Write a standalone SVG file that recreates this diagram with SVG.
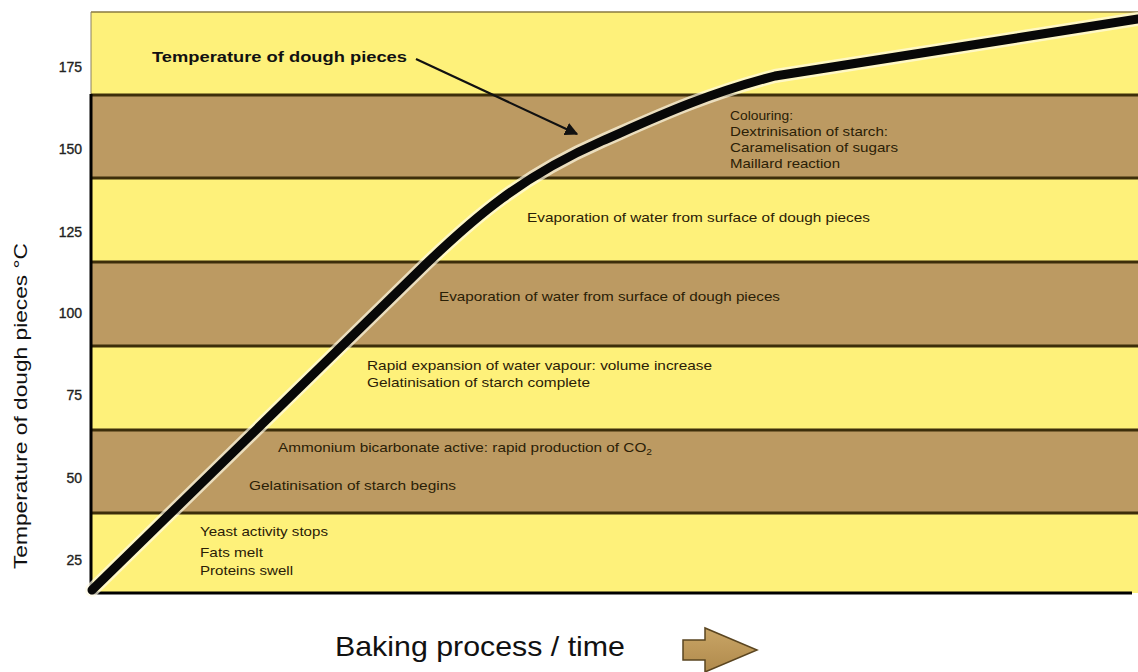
<svg xmlns="http://www.w3.org/2000/svg" width="1138" height="672" viewBox="0 0 1138 672">
  <defs>
    <style>
      .yel { fill: #fef17a; }
      .brn { fill: #bc9a62; }
      .sep { stroke: #3d2e0a; stroke-width: 3; }
      .tick { font-family: "Liberation Sans", Arial, sans-serif; font-size: 14px; fill: #222; stroke: #222; stroke-width: 0.35; text-anchor: end; }
      .band { font-family: "Liberation Sans", Arial, sans-serif; font-size: 13.5px; fill: #2a2006; }
    </style>
    <marker id="ah" viewBox="0 0 10 10" refX="9" refY="5" markerWidth="6" markerHeight="6" orient="auto" markerUnits="strokeWidth">
      <path d="M0,0 L10,5 L0,10 z" fill="#111"/>
    </marker>
    <linearGradient id="arrG" x1="0" y1="0" x2="0" y2="1">
      <stop offset="0" stop-color="#c9a566"/>
      <stop offset="1" stop-color="#b08a4c"/>
    </linearGradient>
  </defs>
  <rect width="1138" height="672" fill="#ffffff"/>

  <g id="bands">
    <rect class="yel" x="91" y="12" width="1047" height="83"/>
    <rect class="brn" x="91" y="95" width="1047" height="83"/>
    <rect class="yel" x="91" y="178" width="1047" height="84"/>
    <rect class="brn" x="91" y="262" width="1047" height="84"/>
    <rect class="yel" x="91" y="346" width="1047" height="84"/>
    <rect class="brn" x="91" y="430" width="1047" height="83"/>
    <rect class="yel" x="91" y="513" width="1047" height="80"/>
    <line x1="91" y1="12" x2="1138" y2="12" stroke="#8a7a40" stroke-width="1.5"/>
    <line x1="91" y1="12" x2="91" y2="95" stroke="#8a8060" stroke-width="1"/>
    <line class="sep" x1="91" y1="95" x2="1138" y2="95"/>
    <line class="sep" x1="91" y1="178" x2="1138" y2="178"/>
    <line class="sep" x1="91" y1="262" x2="1138" y2="262"/>
    <line class="sep" x1="91" y1="346" x2="1138" y2="346"/>
    <line class="sep" x1="91" y1="430" x2="1138" y2="430"/>
    <line class="sep" x1="91" y1="513" x2="1138" y2="513"/>
    <line x1="91" y1="94" x2="91" y2="594" stroke="#000" stroke-width="3"/>
    <line x1="90" y1="593" x2="1132" y2="593" stroke="#000" stroke-width="3"/>
  </g>

  <g id="ticks">
    <text class="tick" x="82" y="72">175</text>
    <text class="tick" x="82" y="154">150</text>
    <text class="tick" x="82" y="237">125</text>
    <text class="tick" x="82" y="318">100</text>
    <text class="tick" x="82" y="400">75</text>
    <text class="tick" x="82" y="483">50</text>
    <text class="tick" x="82" y="565">25</text>
  </g>

  <g id="y-label">
    <text transform="translate(27,406) rotate(-90)" text-anchor="middle" font-family="Liberation Sans, Arial, sans-serif" font-size="18" fill="#111" textLength="326" lengthAdjust="spacingAndGlyphs">Temperature of dough pieces °C</text>
  </g>

  <g id="band-labels">
    <text class="band" x="730" y="120" textLength="63" lengthAdjust="spacingAndGlyphs">Colouring:</text>
    <text class="band" x="730" y="136" textLength="158" lengthAdjust="spacingAndGlyphs">Dextrinisation of starch:</text>
    <text class="band" x="730" y="152" textLength="168" lengthAdjust="spacingAndGlyphs">Caramelisation of sugars</text>
    <text class="band" x="730" y="168" textLength="110" lengthAdjust="spacingAndGlyphs">Maillard reaction</text>
    <text class="band" x="527" y="222" textLength="343" lengthAdjust="spacingAndGlyphs">Evaporation of water from surface of dough pieces</text>
    <text class="band" x="439" y="301" textLength="341" lengthAdjust="spacingAndGlyphs">Evaporation of water from surface of dough pieces</text>
    <text class="band" x="367" y="370" textLength="345" lengthAdjust="spacingAndGlyphs">Rapid expansion of water vapour: volume increase</text>
    <text class="band" x="367" y="387" textLength="223" lengthAdjust="spacingAndGlyphs">Gelatinisation of starch complete</text>
    <text class="band" x="278" y="452" textLength="374" lengthAdjust="spacingAndGlyphs">Ammonium bicarbonate active: rapid production of CO<tspan font-size="9" dy="3">2</tspan></text>
    <text class="band" x="249" y="490" textLength="207" lengthAdjust="spacingAndGlyphs">Gelatinisation of starch begins</text>
    <text class="band" x="200" y="536" textLength="128" lengthAdjust="spacingAndGlyphs">Yeast activity stops</text>
    <text class="band" x="200" y="557" textLength="63" lengthAdjust="spacingAndGlyphs">Fats melt</text>
    <text class="band" x="200" y="575" textLength="93" lengthAdjust="spacingAndGlyphs">Proteins swell</text>
  </g>

  <g id="connectors">
    <path d="M92,590 L426,264 C474,218 522,176 602,141 C652,119 702,95 775,76 L1138,19" fill="none" stroke="#fffbe6" stroke-opacity="0.7" stroke-width="14" stroke-linecap="round" stroke-linejoin="round"/>
    <path id="curve" d="M92,590 L426,264 C474,218 522,176 602,141 C652,119 702,95 775,76 L1138,19" fill="none" stroke="#080808" stroke-width="9" stroke-linecap="round" stroke-linejoin="round"/>
    <line x1="416" y1="59" x2="577" y2="134" stroke="#111" stroke-width="2.2" marker-end="url(#ah)"/>
  </g>

  <g id="title-label">
    <text x="152" y="62" font-family="Liberation Sans, Arial, sans-serif" font-weight="bold" font-size="15" fill="#111" textLength="255" lengthAdjust="spacingAndGlyphs">Temperature of dough pieces</text>
  </g>

  <g id="x-label">
    <text x="335" y="656" font-family="Liberation Sans, Arial, sans-serif" font-size="28" fill="#111" textLength="290" lengthAdjust="spacingAndGlyphs">Baking process / time</text>
    <path d="M683,640 L705,640 L705,628 L757,650 L705,672 L705,660 L683,660 Z" fill="url(#arrG)" stroke="#5a4520" stroke-width="1.5" stroke-linejoin="miter"/>
  </g>
</svg>
